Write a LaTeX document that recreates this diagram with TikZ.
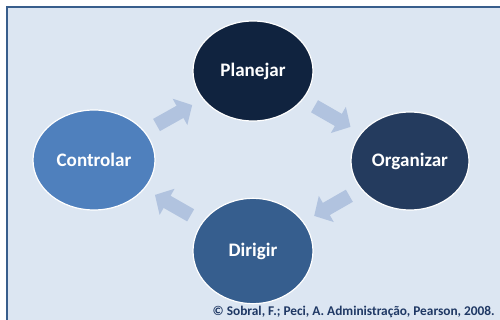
\documentclass[tikz,border=0pt]{standalone}
\usepackage{fontspec}
\setmainfont{Carlito}
\usepackage{xcolor}
\usepackage{tikz}
\usetikzlibrary{shapes}
\usetikzlibrary{arrows.meta}

\begin{document}
\begin{tikzpicture}[x=0.75pt,y=0.75pt,yscale=-1,xscale=1,
  phase/.style={ellipse,draw=white,line width=0.9pt,inner sep=0pt,minimum width=90pt,minimum height=75pt,text=white,font=\fontsize{14.3}{17}\selectfont\bfseries},
  cyclearrow/.style={draw={rgb, 255:red, 177; green, 195; blue, 223 },line width=10.5pt,shorten <=10pt,shorten >=9pt,-{Triangle[width=22pt,length=10.5pt]}}]
\clip (0,0) rectangle (500,320);

%Panel [background]
\draw [color={rgb, 255:red, 56; green, 94; blue, 140 } ,draw opacity=1 ][fill={rgb, 255:red, 220; green, 230; blue, 242 } ,fill opacity=1 ][line width=1.5]  (7,7) rectangle (510,330) ;

% Circles
\node (plan) [phase,fill={rgb, 255:red, 16; green, 35; blue, 63 }] at (253,71) {Planejar};
\node (org) [phase,fill={rgb, 255:red, 36; green, 59; blue, 94 },minimum width=88.5pt,minimum height=73.5pt] at (410,161) {Organizar};
\node (dir) [phase,fill={rgb, 255:red, 54; green, 94; blue, 142 },minimum height=79pt] at (253,251) {Dirigir};
\node (ctrl) [phase,fill={rgb, 255:red, 79; green, 128; blue, 189 },minimum width=91.5pt] at (94,160) {Controlar};

% Arrows
\draw [cyclearrow] (ctrl) -- (plan) ;
\draw [cyclearrow] (plan) -- (org) ;
\draw [cyclearrow] (org) -- (dir) ;
\draw [cyclearrow] (dir) -- (ctrl) ;

% Text Node
\node (src) [anchor=base east,inner sep=0pt,color={rgb, 255:red, 31; green, 56; blue, 100 },font=\fontsize{10}{12}\selectfont\bfseries] at (495,316) {© Sobral, F.; Peci, A. Administração, Pearson, 2008.};
\end{tikzpicture}
\end{document}
